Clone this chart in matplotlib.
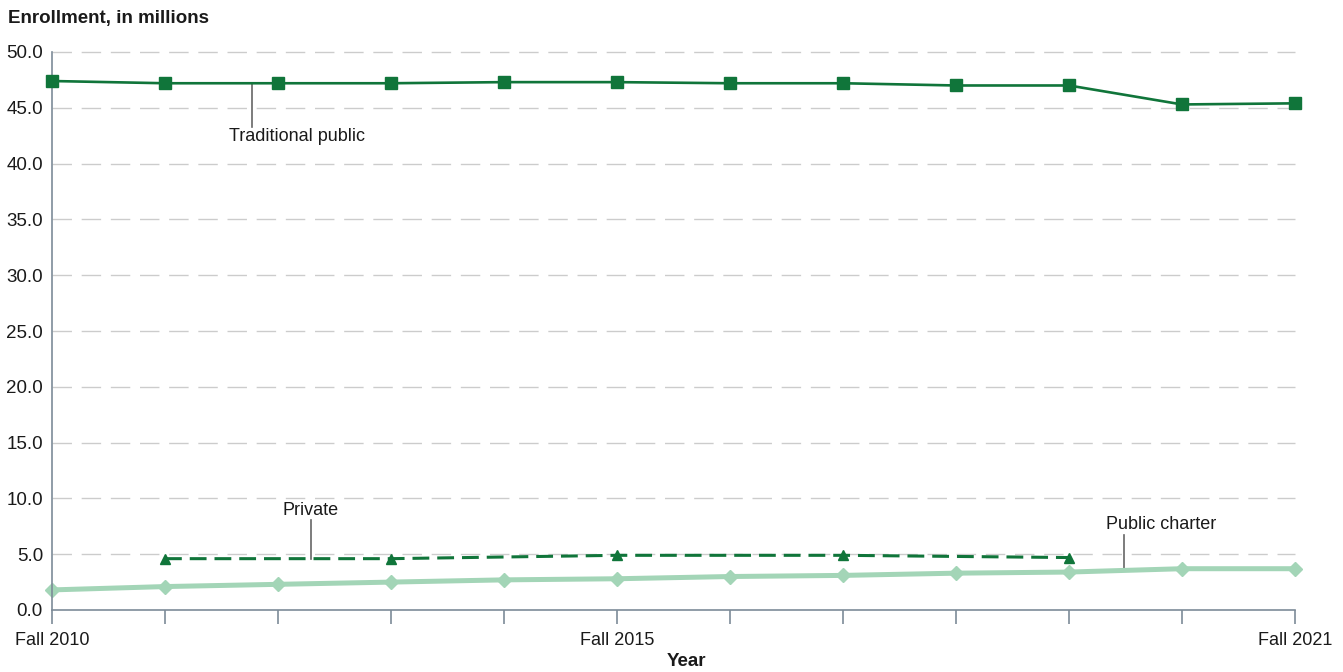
import matplotlib
matplotlib.use("Agg")
import matplotlib.pyplot as plt

plt.rcParams['font.family'] = ['Liberation Sans', 'DejaVu Sans']

years = [2010, 2011, 2012, 2013, 2014, 2015, 2016, 2017, 2018, 2019, 2020, 2021]
traditional = [47.4, 47.2, 47.2, 47.2, 47.3, 47.3, 47.2, 47.2, 47.0, 47.0, 45.3, 45.4]
private_years = [2011, 2013, 2015, 2017, 2019]
private = [4.6, 4.6, 4.9, 4.9, 4.7]
charter = [1.8, 2.1, 2.3, 2.5, 2.7, 2.8, 3.0, 3.1, 3.3, 3.4, 3.7, 3.7]

yticks = [0, 5, 10, 15, 20, 25, 30, 35, 40, 45, 50]
xlabels = {2010: "Fall 2010", 2015: "Fall 2015", 2021: "Fall 2021"}

dark = "#10753a"
light = "#a3d5b7"
axis_col = "#7d8b98"
text_col = "#1a1a1a"

fig = plt.figure(figsize=(13.43, 6.72), dpi=100)
ax = fig.add_axes([52/1343, 1 - 610/672, (1295-52)/1343, (610-52)/672])

for v in yticks[1:]:
    ax.axhline(v, color="#cccccc", lw=1, dashes=(14, 7), zorder=0)

ax.plot(years, charter, color=light, lw=3.6, marker="D", markersize=7.5, zorder=2, solid_capstyle="butt")
ax.plot(private_years, private, color=dark, lw=2.2, dashes=(5.5, 2.6), marker="^", markersize=7, zorder=3)
ax.plot(years, traditional, color=dark, lw=1.9, marker="s", markersize=8, zorder=4)

# leader lines + labels
ax.plot([2011.77, 2011.77], [47.2, 43.3], color="#666666", lw=1.2, zorder=1)
ax.text(2011.57, 42.4, "Traditional public", ha="left", va="center", fontsize=13, color=text_col)
ax.plot([2012.29, 2012.29], [4.6, 8.1], color="#666666", lw=1.2, zorder=1)
ax.text(2012.29, 8.9, "Private", ha="center", va="center", fontsize=13, color=text_col)
ax.plot([2019.49, 2019.49], [3.55, 6.7], color="#666666", lw=1.2, zorder=1)
ax.text(2019.33, 7.7, "Public charter", ha="left", va="center", fontsize=13, color=text_col)

ax.set_xlim(2010, 2021)
ax.set_ylim(0, 50)
ax.set_yticks(yticks)
ax.set_yticklabels([f"{v:.1f}" for v in yticks], fontsize=13.5, color=text_col)
ax.set_xticks(years)
ax.set_xticklabels([xlabels.get(y, "") for y in years], fontsize=13, color=text_col)
ax.tick_params(axis="y", length=0, pad=6.5)
ax.tick_params(axis="x", length=10, width=1.2, color=axis_col, pad=6)

for s in ["top", "right"]:
    ax.spines[s].set_visible(False)
for s in ["left", "bottom"]:
    ax.spines[s].set_color(axis_col)
    ax.spines[s].set_linewidth(1.2)
for line in ax.lines:
    line.set_clip_on(False)

fig.text(8/1343, 1 - 18/672, "Enrollment, in millions", fontsize=13.5, fontweight="bold",
         color=text_col, ha="left", va="center")
fig.text(686/1343, 1 - 662/672, "Year", fontsize=13.5, fontweight="bold",
         color=text_col, ha="center", va="center")

fig.savefig("out.png", dpi=100)
